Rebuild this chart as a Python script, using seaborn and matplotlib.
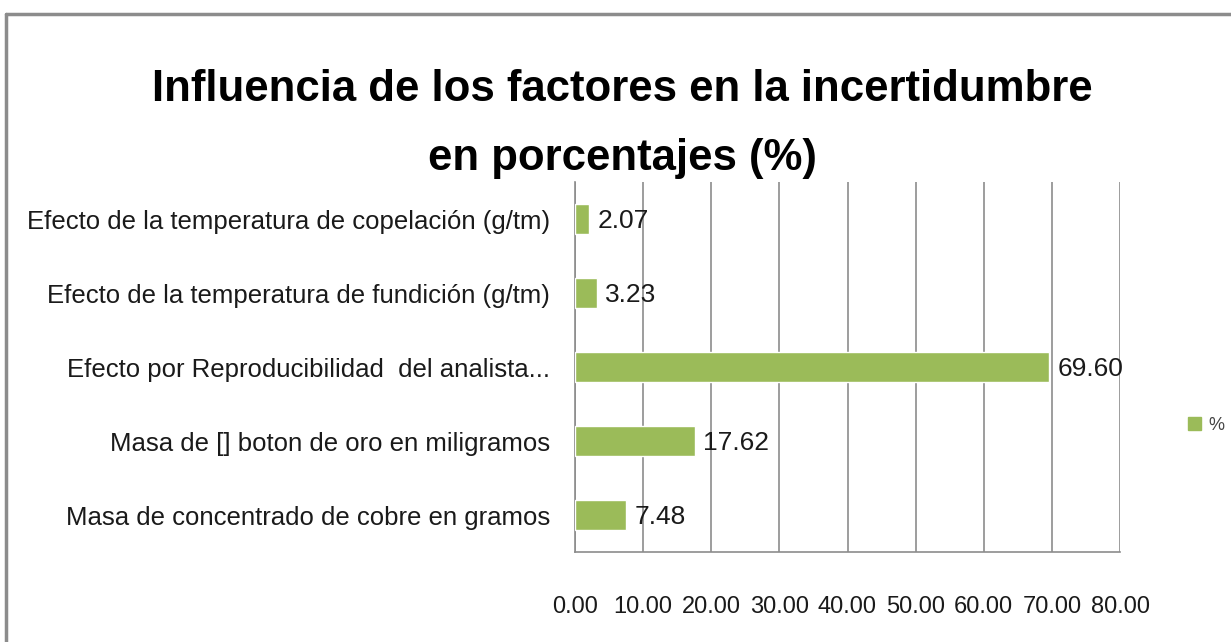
import matplotlib
matplotlib.use("Agg")
import matplotlib.pyplot as plt
import matplotlib.lines as mlines
import matplotlib.patches as mpatches
import seaborn as sns
import pandas as pd

# --- data ---
factores = [
    "Efecto de la temperatura de copelación (g/tm)",
    "Efecto de la temperatura de fundición (g/tm)",
    "Efecto por Reproducibilidad  del analista...",
    "Masa de [] boton de oro en miligramos",
    "Masa de concentrado de cobre en gramos",
]
porcentajes = [2.07, 3.23, 69.60, 17.62, 7.48]
x_ticks = [0, 10, 20, 30, 40, 50, 60, 70, 80]

GREEN = "#9BBB59"
GRID = "#8C8C8C"
TXT = "#1a1a1a"

sns.set_theme(style="white")
plt.rcParams["font.family"] = ["Liberation Sans", "DejaVu Sans"]

df = pd.DataFrame({"factor": factores, "pct": porcentajes})

fig = plt.figure(figsize=(12.31, 6.42), dpi=100)
ax = fig.add_axes([575 / 1231, 90 / 642, 545 / 1231, 370 / 642])

sns.barplot(data=df, x="pct", y="factor", color=GREEN, width=0.4,
            saturation=1, ax=ax, zorder=3)

ax.set_xlim(0, 80)
ax.set_xticks(x_ticks)
ax.set_xticklabels([f"{t:.2f}" for t in x_ticks], fontsize=17, color=TXT)
ax.tick_params(axis="x", length=0, pad=32)
ax.tick_params(axis="y", length=0, pad=18, labelsize=18.5, labelcolor=TXT)
ax.set_xlabel("")
ax.set_ylabel("")

ax.grid(axis="x", color=GRID, linewidth=1.2, zorder=0)
ax.set_axisbelow(True)
for side in ["top", "right"]:
    ax.spines[side].set_visible(False)
for side in ["left", "bottom"]:
    ax.spines[side].set_color(GRID)
    ax.spines[side].set_linewidth(1.2)

labels = ax.bar_label(ax.containers[0], fmt="%.2f", padding=6, fontsize=19,
                      color=TXT)
for t in labels:
    t.set_va("center_baseline")

fig.text(622 / 1231, 1 - 124 / 642,
         "Influencia de los factores en la incertidumbre\nen porcentajes (%)",
         ha="center", va="center", fontsize=31.5, fontweight="bold",
         color="black", linespacing=1.9)

handle = mpatches.Patch(color=GREEN, label="%")
fig.legend(handles=[handle], loc="center left",
           bbox_to_anchor=(1172 / 1231, 1 - 425 / 642),
           frameon=False, fontsize=13, handlelength=0.7, handleheight=0.7,
           handletextpad=0.4, labelcolor="#444444")

# chart area border (partially cropped in the reference)
fig.add_artist(mlines.Line2D([6 / 1231, 6 / 1231], [0, 1 - 14 / 642],
                             color=GRID, linewidth=2.5))
fig.add_artist(mlines.Line2D([6 / 1231, 1], [1 - 14 / 642, 1 - 14 / 642],
                             color=GRID, linewidth=2.5))

fig.savefig("out.png", dpi=100)
